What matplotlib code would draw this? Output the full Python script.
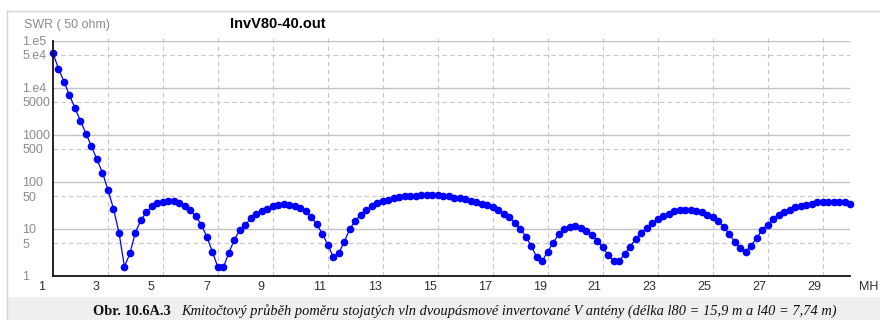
import matplotlib
matplotlib.use('Agg')
import matplotlib.pyplot as plt
from matplotlib.transforms import ScaledTranslation
from matplotlib.patches import Rectangle
from matplotlib.lines import Line2D

# ---------------- data ----------------
freq_mhz = [1.0, 1.2, 1.4, 1.6, 1.8, 2.0, 2.2, 2.4, 2.6, 2.8,
            3.0, 3.2, 3.4, 3.6, 3.8, 4.0, 4.2, 4.4, 4.6, 4.8,
            5.0, 5.2, 5.4, 5.6, 5.8, 6.0, 6.2, 6.4, 6.6, 6.8,
            7.0, 7.2, 7.4, 7.6, 7.8, 8.0, 8.2, 8.4, 8.6, 8.8,
            9.0, 9.2, 9.4, 9.6, 9.8, 10.0, 10.2, 10.4, 10.6, 10.8,
            11.0, 11.2, 11.4, 11.6, 11.8, 12.0, 12.2, 12.4, 12.6, 12.8,
            13.0, 13.2, 13.4, 13.6, 13.8, 14.0, 14.2, 14.4, 14.6, 14.8,
            15.0, 15.2, 15.4, 15.6, 15.8, 16.0, 16.2, 16.4, 16.6, 16.8,
            17.0, 17.2, 17.4, 17.6, 17.8, 18.0, 18.2, 18.4, 18.6, 18.8,
            19.0, 19.2, 19.4, 19.6, 19.8, 20.0, 20.2, 20.4, 20.6, 20.8,
            21.0, 21.2, 21.4, 21.6, 21.8, 22.0, 22.2, 22.4, 22.6, 22.8,
            23.0, 23.2, 23.4, 23.6, 23.8, 24.0, 24.2, 24.4, 24.6, 24.8,
            25.0, 25.2, 25.4, 25.6, 25.8, 26.0, 26.2, 26.4, 26.6, 26.8,
            27.0, 27.2, 27.4, 27.6, 27.8, 28.0, 28.2, 28.4, 28.6, 28.8,
            29.0, 29.2, 29.4, 29.6, 29.8, 30.0]

swr = [54000, 25500, 13500, 6950, 3700, 1950, 1060, 570, 300, 157,
       68, 27, 8.4, 1.58, 3.05, 8.4, 15.6, 22.4, 30, 35.5,
       38, 40, 40, 36, 30, 24.7, 18.4, 12.2, 6.7, 3.3,
       1.53, 1.53, 3.14, 5.9, 9.6, 12.2, 17, 21, 23.5, 26.8,
       30, 32.6, 34.3, 32.6, 30, 27.7, 23.5, 17.8, 12.5, 7.9,
       4.6, 2.5, 3.05, 5.4, 9.9, 15.1, 20, 24.7, 30, 35.5,
       40, 41.6, 45, 46.8, 49, 49, 50.8, 53, 53, 53,
       51.5, 50.8, 49, 45.3, 44.5, 43.2, 40, 37.3, 34.3, 31.6,
       28.6, 25.5, 21, 17.8, 13.7, 10.2, 6.9, 4.4, 2.5, 2.09,
       3.3, 5.1, 7.7, 9.9, 10.9, 11.8, 10.4, 9.2, 7.5, 5.6,
       4.1, 2.8, 2.09, 2.09, 2.94, 4.2, 6.1, 8.1, 10.7, 13.3,
       16.2, 18.4, 21, 23.5, 25.5, 25.5, 25.5, 24.3, 22.4, 20,
       17.8, 14.4, 11.2, 7.9, 5.4, 3.9, 3.3, 4.4, 6.4, 9.6,
       12.2, 16.2, 20, 22.8, 25.5, 28.6, 31.1, 32.6, 34.3, 36.6,
       36.6, 36.6, 36.6, 36.6, 36.6, 33.8]

x_ticks = [1, 3, 5, 7, 9, 11, 13, 15, 17, 19, 21, 23, 25, 27, 29]
x_tick_labels = ['1', '3', '5', '7', '9', '11', '13', '15', '17', '19',
                 '21', '23', '25', '27', '29']
y_ticks = [1e5, 5e4, 1e4, 5000, 1000, 500, 100, 50, 10, 5, 1]
y_tick_labels = ['1.e5', '5.e4', '1.e4', '5000', '1000', '500', '100',
                 '50', '10', '5', '1']
y_decades = [1e5, 1e4, 1000, 100, 10]
y_halves = [5e4, 5000, 500, 50, 5]

title = 'InvV80-40.out'
y_title = 'SWR ( 50 ohm)'
x_unit = 'MH'
caption_bold = 'Obr. 10.6A.3'
caption_italic = ('Kmitočtový průběh poměru stojatých vln dvoupásmové invertované '
                  'V antény (délka l80 = 15,9 m a l40 = 7,74 m)')

# ---------------- figure ----------------
plt.rcParams['font.family'] = ['Liberation Sans', 'DejaVu Sans']
W, H = 880, 320
fig = plt.figure(figsize=(W / 100, H / 100), dpi=100)
fig.patch.set_facecolor('white')


def fx(px):
    return px / W


def fy(py):
    return 1 - py / H


# caption band and frame border
fig.patches.append(Rectangle((fx(8), 0), 1 - fx(8), fy(297), transform=fig.transFigure,
                             facecolor='#efefef', edgecolor='none', zorder=0))
fig.lines.append(Line2D([fx(7), 1], [fy(10.7), fy(10.7)], transform=fig.transFigure,
                        color='#d6d6d6', lw=1.0))
fig.lines.append(Line2D([fx(7.3), fx(7.3)], [fy(10.7), 0], transform=fig.transFigure,
                        color='#d6d6d6', lw=1.0))

ax = fig.add_axes([fx(53), fy(276), fx(850) - fx(53), fy(40.7) - fy(276)])
ax.set_facecolor('none')
ax.set_yscale('log')
ax.set_xlim(1, 30)
ax.set_ylim(1, 1e5)

# grid
for v in y_decades:
    ax.axhline(v, color='#c2c2c2', lw=1.0, zorder=1)
for v in y_halves:
    ax.axhline(v, color='#c6c6c6', lw=0.8, ls=(0, (4, 3)), zorder=1)
for xv in x_ticks[1:]:
    ax.axvline(xv, ymin=0, ymax=1.018, color='#c6c6c6', lw=0.8, ls=(0, (4, 3)),
               zorder=1, clip_on=False)

# data
ax.plot(freq_mhz, swr, color='#0000ff', lw=0.9, marker='o', ms=4.5,
        mfc='#0000ff', mec='#0000ff', zorder=5, clip_on=False)

# spines
for s in ['top', 'right']:
    ax.spines[s].set_visible(False)
for s in ['left', 'bottom']:
    ax.spines[s].set_color('#111111')
    ax.spines[s].set_linewidth(1.3)
    ax.spines[s].set_zorder(6)

# ticks
ax.minorticks_off()
ax.set_xticks(x_ticks, labels=x_tick_labels)
ax.set_yticks(y_ticks, labels=y_tick_labels)
ax.yaxis.set_minor_locator(matplotlib.ticker.NullLocator())
ax.tick_params(axis='x', length=0, pad=3.5, labelsize=9, labelcolor='#303030')
ax.tick_params(axis='y', length=0, pad=22.3, labelsize=9, labelcolor='#8c8c8c')
offset = ScaledTranslation(-0.15, 0, fig.dpi_scale_trans)
for lab in ax.get_xticklabels():
    lab.set_horizontalalignment('left')
    lab.set_transform(lab.get_transform() + offset)
for lab in ax.get_yticklabels():
    lab.set_horizontalalignment('left')

# texts
fig.text(fx(24), fy(25), y_title, ha='left', va='center', fontsize=9, color='#8c8c8c')
fig.text(fx(230), fy(24.5), title, ha='left', va='center', fontsize=10.5,
         fontweight='bold', color='black')
fig.text(fx(859), fy(287), x_unit, ha='left', va='center', fontsize=9, color='#303030')
fig.text(fx(92.7), fy(311.5), caption_bold, ha='left', va='center', fontsize=10.4,
         fontweight='bold', family=['Liberation Serif', 'DejaVu Serif'], color='#111111')
fig.text(fx(181), fy(311.5), caption_italic, ha='left', va='center', fontsize=10.4,
         fontstyle='italic', family=['Liberation Serif', 'DejaVu Serif'], color='#111111')

fig.savefig('out.png', dpi=100, facecolor='white')
